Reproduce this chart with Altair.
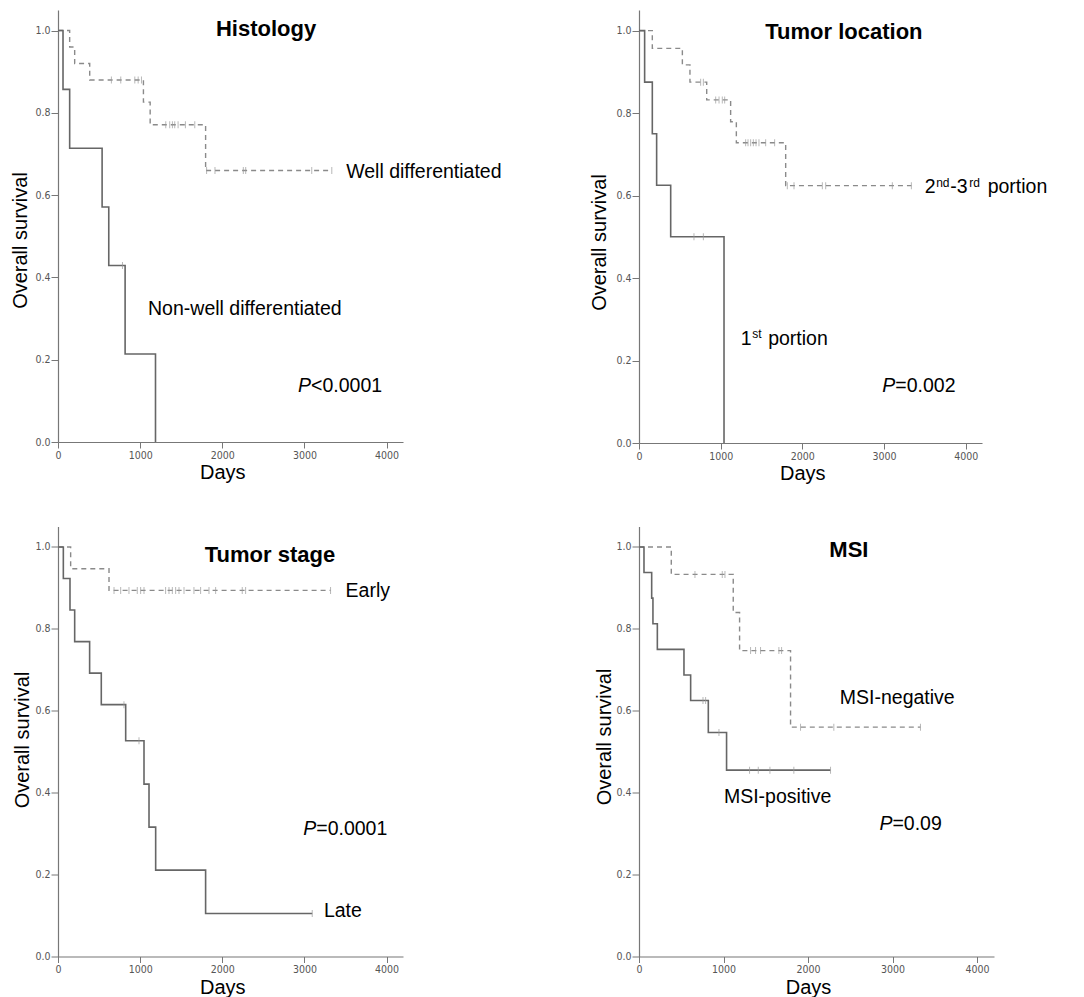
import altair as alt
import pandas as pd

FONT = "Liberation Sans, Arial, Helvetica, sans-serif"
TICKFONT = "Liberation Sans Narrow, DejaVu Sans Condensed, Liberation Sans, sans-serif"

# ---------------- data (days, survival) ----------------
# Histology
hist_well_days = [0, 142, 203, 386, 1040, 1122, 1797, 3333]
hist_well_surv = [1.0, 0.960, 0.920, 0.880, 0.826, 0.771, 0.660, 0.660]
hist_well_cens = [650, 764, 935, 976, 1016, 1312, 1360, 1393, 1421, 1462, 1551, 1665,
                  1809, 1911, 2256, 2285, 3089, 3333]
hist_non_days = [0, 61, 142, 537, 618, 817, 1187]
hist_non_surv = [1.0, 0.857, 0.714, 0.571, 0.429, 0.214, 0.0]
hist_non_cens = [785]

# Tumor location
loc_23_days = [0, 163, 531, 624, 829, 1122, 1192, 1796, 3335]
loc_23_surv = [1.0, 0.957, 0.917, 0.875, 0.832, 0.779, 0.728, 0.624, 0.624]
loc_23_cens = [755, 788, 939, 980, 1020, 1049, 1306, 1335, 1367, 1400, 1433, 1469, 1551,
               1661, 1816, 1898, 2245, 2286, 3102, 3335]
loc_1_days = [0, 69, 163, 216, 388, 1041]
loc_1_surv = [1.0, 0.875, 0.750, 0.625, 0.500, 0.0]
loc_1_cens = [673, 788]

# Tumor stage
stage_early_days = [0, 154, 621, 3318]
stage_early_surv = [1.0, 0.947, 0.894, 0.894]
stage_early_cens = [682, 763, 864, 965, 1006, 1047, 1310, 1351, 1392, 1432, 1473, 1534,
                    1655, 1736, 1838, 1919, 2243, 2284, 3318]
stage_late_days = [0, 65, 146, 203, 385, 527, 824, 1047, 1108, 1189, 1797, 3095]
stage_late_surv = [1.0, 0.923, 0.846, 0.769, 0.692, 0.615, 0.527, 0.421, 0.316, 0.211,
                   0.105, 0.105]
stage_late_cens = [803, 986, 3095]

# MSI
msi_neg_days = [0, 382, 1115, 1190, 1793, 3330]
msi_neg_surv = [1.0, 0.933, 0.840, 0.747, 0.560, 0.560]
msi_neg_cens = [662, 985, 1017, 1320, 1379, 1438, 1655, 1687, 1911, 2305, 3330]
msi_pos_days = [0, 59, 150, 165, 217, 532, 611, 820, 1036, 2266]
msi_pos_surv = [1.0, 0.9375, 0.875, 0.8125, 0.750, 0.6875, 0.625, 0.547, 0.455, 0.455]
msi_pos_cens = [757, 788, 946, 1308, 1411, 1549, 1832, 2266]

# ---------------- titles and annotation anchors (days, survival) ----------------
panel_titles = ["Histology", "Tumor location", "Tumor stage", "MSI"]
title_anchor_days = [2533, 2509, 2580, 2483]
title_anchor_surv = [1.007, 1.000, 0.984, 0.994]

hist_label_text = ["Well differentiated", "Non-well differentiated"]
hist_label_days = [3508, 1096]
hist_label_surv = [0.658, 0.326]
hist_p = ("<0.0001", 2923, 0.139)

loc_label_days = [3498, 1245]
loc_label_surv = [0.622, 0.255]
loc_p = ("=0.002", 2980, 0.140)

stage_label_text = ["Early", "Late"]
stage_label_days = [3501, 3237]
stage_label_surv = [0.894, 0.114]
stage_p = ("=0.0001", 2986, 0.315)

msi_label_text = ["MSI-negative", "MSI-positive"]
msi_label_days = [2376, 1005]
msi_label_surv = [0.633, 0.393]
msi_p = ("=0.09", 2845, 0.326)

SOLID = "#666666"
DASHED = "#8a8a8a"
CENS = "#9a9a9a"
LBL = 19.5


def step_value(days, surv, t):
    v = surv[0]
    for d, s in zip(days, surv):
        if d <= t:
            v = s
    return v


def one(x, y, text):
    return pd.DataFrame({"t": [x], "s": [y], "txt": [text]})


def panel(curves, texts, idx, width, height, ytx, yty):
    xs = alt.Scale(domain=[0, 4200], nice=False, zero=False)
    ys = alt.Scale(domain=[0, 1.05], nice=False, zero=False)
    xa = alt.Axis(values=[0, 1000, 2000, 3000, 4000], format="d", title="Days",
                  tickSize=6, labelPadding=2, titlePadding=2,
                  titleX=width * 2000 / 4200, labelFlush=False, grid=False)
    ya = alt.Axis(values=[0, 0.2, 0.4, 0.6, 0.8, 1.0], format=".1f",
                  title="Overall survival", tickSize=7, labelPadding=1,
                  titleX=ytx, titleY=yty, titleBaseline="middle", titleAlign="center",
                  grid=False)
    X = alt.X("t:Q", scale=xs, axis=xa)
    Y = alt.Y("s:Q", scale=ys, axis=ya)
    layers = []
    for days, surv, cens, solid in curves:
        df = pd.DataFrame({"t": days, "s": surv})
        if solid:
            m = alt.Chart(df).mark_line(interpolate="step-after", color=SOLID, strokeWidth=1.6)
        else:
            m = alt.Chart(df).mark_line(interpolate="step-after", color=DASHED,
                                        strokeWidth=1.4, strokeDash=[5, 4])
        layers.append(m.encode(x=X, y=Y))
        cdf = pd.DataFrame({"t": cens, "s": [step_value(days, surv, c) for c in cens]})
        layers.append(alt.Chart(cdf).mark_tick(orient="vertical", size=7, thickness=1,
                                               color=CENS).encode(x=X, y=Y))
    # title
    layers.append(alt.Chart(one(title_anchor_days[idx], title_anchor_surv[idx],
                                panel_titles[idx]))
                  .mark_text(align="center", baseline="alphabetic", dy=8, font=FONT,
                             fontSize=22, fontWeight="bold", color="black")
                  .encode(x=X, y=Y, text="txt:N"))
    for (txt, x, y, dx, size, style, sup) in texts:
        layers.append(alt.Chart(one(x, y, txt))
                      .mark_text(align="left", baseline="alphabetic",
                                 dx=dx, dy=(0.5 if sup else 7), font=FONT, fontSize=size,
                                 fontStyle=style, color="black")
                      .encode(x=X, y=Y, text="txt:N"))
    return alt.layer(*layers).properties(width=width, height=height)


def p_label(p):
    txt, x, y = p
    return [("P", x, y, 0, LBL, "italic", False), (txt, x, y, 13, LBL, "normal", False)]


p1 = panel(
    [(hist_well_days, hist_well_surv, hist_well_cens, False),
     (hist_non_days, hist_non_surv, hist_non_cens, True)],
    [(hist_label_text[i], hist_label_days[i], hist_label_surv[i], 0, LBL, "normal", False)
     for i in range(2)] + p_label(hist_p),
    0, 345, 432, -38, 230)

loc_texts = [
    ("2", loc_label_days[0], loc_label_surv[0], 0, LBL, "normal", False),
    ("nd", loc_label_days[0], loc_label_surv[0], 11.5, 12, "normal", True),
    ("-3", loc_label_days[0], loc_label_surv[0], 25.5, LBL, "normal", False),
    ("rd", loc_label_days[0], loc_label_surv[0], 44.5, 12, "normal", True),
    ("portion", loc_label_days[0], loc_label_surv[0], 63, LBL, "normal", False),
    ("1", loc_label_days[1], loc_label_surv[1], 0, LBL, "normal", False),
    ("st", loc_label_days[1], loc_label_surv[1], 11.5, 12, "normal", True),
    ("portion", loc_label_days[1], loc_label_surv[1], 27.5, LBL, "normal", False),
] + p_label(loc_p)

p2 = panel(
    [(loc_23_days, loc_23_surv, loc_23_cens, False),
     (loc_1_days, loc_1_surv, loc_1_cens, True)],
    loc_texts, 1, 343, 433, -39.5, 232)

p3 = panel(
    [(stage_early_days, stage_early_surv, stage_early_cens, False),
     (stage_late_days, stage_late_surv, stage_late_cens, True)],
    [(stage_label_text[i], stage_label_days[i], stage_label_surv[i], 0, LBL, "normal", False)
     for i in range(2)] + p_label(stage_p),
    2, 345, 430, -36, 213)

p4 = panel(
    [(msi_neg_days, msi_neg_surv, msi_neg_cens, False),
     (msi_pos_days, msi_pos_surv, msi_pos_cens, True)],
    [(msi_label_text[i], msi_label_days[i], msi_label_surv[i], 0, LBL, "normal", False)
     for i in range(2)] + p_label(msi_p),
    3, 355, 430, -34.5, 210)

chart = alt.concat(
    p1, p2, p3, p4, columns=2, bounds="flush",
    spacing=alt.RowColnumber(row=83.5, column=236)
).properties(
    padding={"left": 2, "top": 2, "right": 5, "bottom": 5}
).configure_view(stroke=None).configure_axis(
    domainColor="#777777", tickColor="#777777", labelColor="#555555",
    labelFont=TICKFONT, labelFontSize=10.5, titleFont=FONT, titleFontSize=20,
    titleFontWeight="normal", titleColor="black", domainWidth=1.2, tickWidth=1
)

chart.save("out.html", embed_options={"renderer": "svg", "actions": False})
